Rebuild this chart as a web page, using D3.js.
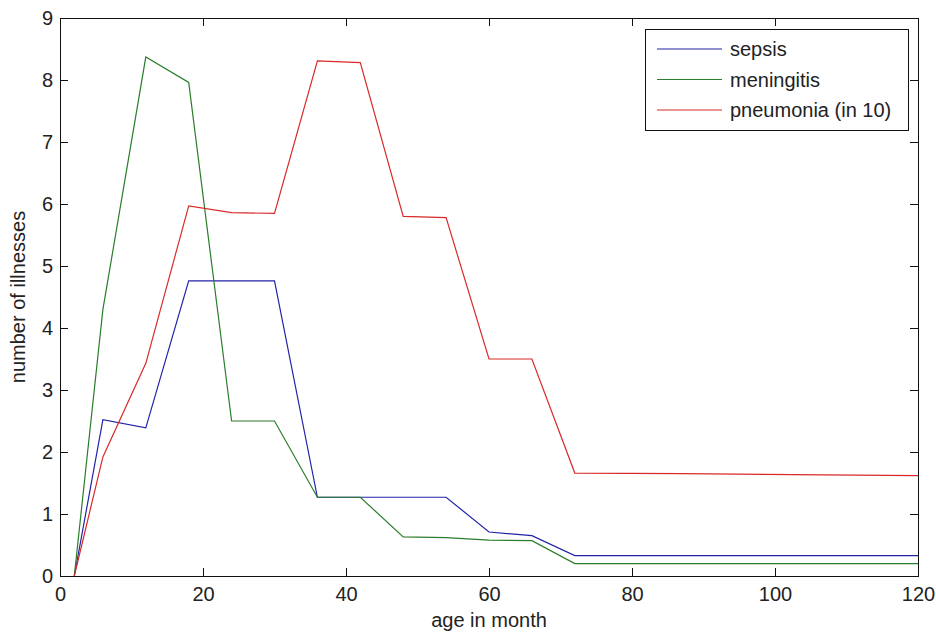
<!DOCTYPE html>
<html>
<head>
<meta charset="utf-8">
<script src="https://cdn.jsdelivr.net/npm/d3@7"></script>
<style>
  html, body { margin: 0; padding: 0; background: #fff; }
  svg { display: block; }
  text { font-family: "Liberation Sans", Arial, sans-serif; fill: #222; }
</style>
</head>
<body>
<svg id="chart" width="936" height="634"></svg>
<script>
// ---- data ----
const months     = [2, 6, 12, 18, 24, 30, 36, 42, 48, 54, 60, 66, 72, 87, 120];
const sepsis     = [0, 2.52, 2.39, 4.76, 4.76, 4.76, 1.27, 1.27, 1.27, 1.27, 0.71, 0.65, 0.33, 0.33, 0.33];
const meningitis = [0, 4.3, 8.37, 7.96, 2.5, 2.5, 1.27, 1.27, 0.63, 0.62, 0.58, 0.57, 0.2, 0.2, 0.2];
const pneumonia  = [0, 1.92, 3.43, 5.97, 5.86, 5.85, 8.31, 8.28, 5.8, 5.78, 3.5, 3.5, 1.66, 1.65, 1.62];
const seriesNames = ["sepsis", "meningitis", "pneumonia (in 10)"];
const xTicks = [0, 20, 40, 60, 80, 100, 120];
const yTicks = [0, 1, 2, 3, 4, 5, 6, 7, 8, 9];
const xLabel = "age in month";
const yLabel = "number of illnesses";

const colors = ["#2323a8", "#2a7d2a", "#d82a2a"];
const seriesData = [sepsis, meningitis, pneumonia];

// ---- layout ----
const svg = d3.select("#chart");
const L = 60, R = 918, T = 18, B = 576;
const x = d3.scaleLinear().domain([0, 120]).range([L, R]);
const y = d3.scaleLinear().domain([0, 9]).range([B, T]);
const fs = 20;

// axes with inward ticks
const gx = svg.append("g").attr("transform", `translate(0,${B})`)
  .call(d3.axisBottom(x).tickValues(xTicks).tickSizeInner(-8).tickSizeOuter(0).tickPadding(11));
const gy = svg.append("g").attr("transform", `translate(${L},0)`)
  .call(d3.axisLeft(y).tickValues(yTicks).tickSizeInner(-8).tickSizeOuter(0).tickPadding(7));
const gt = svg.append("g").attr("transform", `translate(0,${T})`)
  .call(d3.axisTop(x).tickValues(xTicks).tickSizeInner(-8).tickSizeOuter(0).tickFormat(""));
const gr = svg.append("g").attr("transform", `translate(${R},0)`)
  .call(d3.axisRight(y).tickValues(yTicks).tickSizeInner(-8).tickSizeOuter(0).tickFormat(""));

[gx, gy, gt, gr].forEach(g => {
  g.select(".domain").remove();
  g.selectAll(".tick line").attr("stroke", "#111").attr("stroke-width", 1);
  g.selectAll(".tick text").attr("font-size", fs).attr("fill", "#222")
    .attr("font-family", "'Liberation Sans', Arial, sans-serif");
});

// lines
const line = d3.line().x((d, i) => x(months[i])).y(d => y(d));
seriesData.forEach((s, k) => {
  svg.append("path").datum(s)
    .attr("d", line)
    .attr("fill", "none")
    .attr("stroke", colors[k])
    .attr("stroke-width", 1.2)
    .attr("stroke-linejoin", "miter");
});

// frame
svg.append("rect")
  .attr("x", L + 0.5).attr("y", T + 0.5)
  .attr("width", R - L).attr("height", B - T)
  .attr("fill", "none").attr("stroke", "#111").attr("stroke-width", 1);

// legend
const lg = svg.append("g");
const lgX = 645, lgY = 29, lgW = 263, lgH = 101;
lg.append("rect").attr("x", lgX + 0.5).attr("y", lgY + 0.5)
  .attr("width", lgW).attr("height", lgH)
  .attr("fill", "#fff").attr("stroke", "#111").attr("stroke-width", 1);
seriesNames.forEach((name, k) => {
  const cy = 49 + k * 30.5;
  lg.append("line").attr("x1", 657).attr("x2", 722)
    .attr("y1", cy).attr("y2", cy)
    .attr("stroke", colors[k]).attr("stroke-width", 1.2);
  lg.append("text").attr("x", 730).attr("y", cy).attr("dy", "0.35em")
    .attr("font-size", fs).text(name);
});

// axis labels
svg.append("text").attr("x", (L + R) / 2).attr("y", 627)
  .attr("text-anchor", "middle").attr("font-size", fs).text(xLabel);
svg.append("text")
  .attr("transform", `translate(25,${(T + B) / 2}) rotate(-90)`)
  .attr("text-anchor", "middle").attr("font-size", fs).text(yLabel);
</script>
</body>
</html>
